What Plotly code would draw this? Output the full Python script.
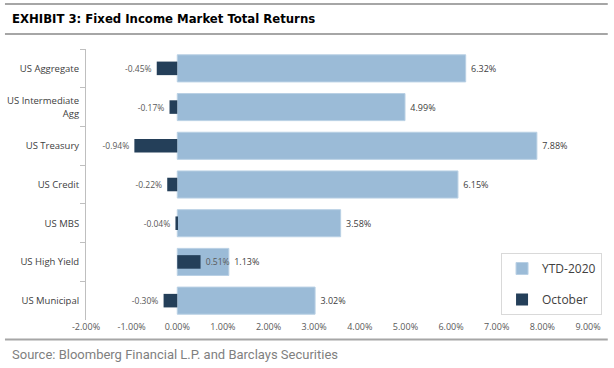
import plotly.graph_objects as go

categories = ["US Aggregate", "US Intermediate<br>Agg", "US Treasury", "US Credit",
              "US MBS", "US High Yield", "US Municipal"]
ytd_2020 = [6.32, 4.99, 7.88, 6.15, 3.58, 1.13, 3.02]
october = [-0.45, -0.17, -0.94, -0.22, -0.04, 0.51, -0.30]
x_tick_vals = [-2, -1, 0, 1, 2, 3, 4, 5, 6, 7, 8, 9]
x_tick_text = ["-2.00%", "-1.00%", "0.00%", "1.00%", "2.00%", "3.00%",
               "4.00%", "5.00%", "6.00%", "7.00%", "8.00%", "9.00%"]

W, H = 614, 368
L, R, T, B = 86, 20, 49, 48
pw, ph = W - L - R, H - T - B

def px(x):
    return (x - L) / pw

def py(y):
    return (H - B - y) / ph

fnt = "Open Sans, Noto Sans, sans-serif"

fig = go.Figure()
fig.add_trace(go.Bar(
    y=categories, x=ytd_2020, orientation="h", name="YTD-2020",
    marker=dict(color="#9BBBD7", line=dict(color="#B9D0E4", width=1)),
    width=0.7, text=[f" {v:.2f}%" for v in ytd_2020], textposition="outside",
    textfont=dict(size=9, color="#404040", family=fnt), constraintext="none",
    cliponaxis=False, legendgroup="a",
))
fig.add_trace(go.Bar(
    y=categories, x=october, orientation="h", name="October",
    marker=dict(color="#243F59", line=dict(color="#243F59", width=0)),
    width=0.35, text=[f" {v:.2f}% " for v in october], textposition="outside",
    textfont=dict(size=8.5, color="#595959", family=fnt), constraintext="none",
    cliponaxis=False, legendgroup="b",
))

fig.update_layout(
    width=W, height=H, barmode="overlay",
    margin=dict(l=L, r=R, t=T, b=B),
    paper_bgcolor="white", plot_bgcolor="white",
    font=dict(family=fnt, color="#404040"),
    showlegend=True,
    legend=dict(x=px(506), y=py(253), xanchor="left", yanchor="top",
                bordercolor="#D9D9D9", borderwidth=1, bgcolor="white",
                font=dict(size=12, color="#404040", family=fnt),
                itemwidth=30,
                traceorder="grouped", tracegroupgap=12),
    xaxis=dict(range=[-2, 9], tickvals=x_tick_vals, ticktext=x_tick_text,
               showgrid=False, zeroline=False, showline=False, ticks="",
               automargin=False,
               tickfont=dict(size=9, color="#595959", family=fnt)),
    yaxis=dict(autorange="reversed", showgrid=False, zeroline=False,
               showline=True, linecolor="#BFBFBF", linewidth=1, automargin=False,
               ticks="outside", tickson="boundaries", ticklen=5, tickcolor="#BFBFBF",
               ticklabelstandoff=4,
               tickfont=dict(size=9.5, color="#404040", family=fnt)),
    shapes=[
        dict(type="line", xref="paper", yref="paper", x0=px(4), x1=px(614), y0=py(4), y1=py(4),
             line=dict(color="#A6A6A6", width=2)),
        dict(type="line", xref="paper", yref="paper", x0=px(4), x1=px(614), y0=py(34), y1=py(34),
             line=dict(color="#A6A6A6", width=2)),
        dict(type="line", xref="paper", yref="paper", x0=px(4), x1=px(614), y0=py(339.5), y1=py(339.5),
             line=dict(color="#A6A6A6", width=2)),
    ],
    annotations=[
        dict(text="<b>EXHIBIT 3: Fixed Income Market Total Returns</b>", xref="paper", yref="paper",
             x=px(9), y=py(18), xanchor="left", yanchor="middle", showarrow=False,
             font=dict(family="DejaVu Sans Condensed, Roboto, sans-serif", size=13, color="#000000")),
        dict(text="Source: Bloomberg Financial L.P. and Barclays Securities", xref="paper", yref="paper",
             x=px(9), y=py(354), xanchor="left", yanchor="middle", showarrow=False,
             font=dict(family="Roboto, sans-serif", size=13, color="#7F7F7F")),
    ],
)

fig.write_html("out.html", config={"displayModeBar": False},
               post_script="document.body.style.margin='0';")
